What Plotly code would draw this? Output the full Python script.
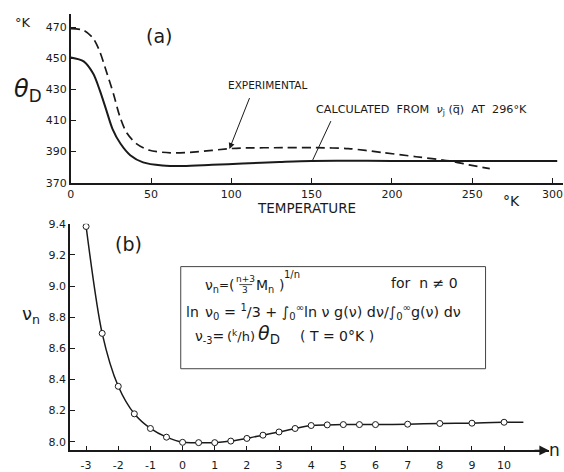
import plotly.graph_objects as go

W, H = 564, 472

# ---------------- data: panel (a) ----------------
calc_T = [0, 8, 14, 18, 22, 26, 31, 37, 45, 57, 70, 88, 107, 130, 150, 200, 250, 303]
calc_theta = [450.5, 448, 440, 429.5, 417, 404.5, 395, 387.7, 383.1, 381.1, 380.7, 381.5, 382.3, 383.3, 384.0, 384.0, 384.0, 384.0]

exp_T = [0, 8, 14, 18, 22, 26.5, 30.5, 34.7, 41, 49, 62, 78, 99, 107, 132, 153, 173, 194, 215, 236, 248, 261]
exp_theta = [469, 468, 462.7, 454.4, 442, 427.3, 412.7, 402.3, 395, 390.9, 389.2, 389.8, 391.9, 392.3, 392.5, 392.5, 391.9, 389.4, 386.7, 384.0, 381.5, 379.0]

a_xticks = [0, 50, 100, 150, 200, 250, 300]
a_yticks = [370, 390, 410, 430, 450, 470]

# ---------------- data: panel (b) ----------------
n_vals = [-3, -2.5, -2, -1.5, -1, -0.5, 0, 0.5, 1, 1.5, 2, 2.5, 3, 3.5, 4, 4.5, 5, 5.5, 6, 7, 8, 9, 10]
nu_vals = [9.383, 8.696, 8.356, 8.179, 8.085, 8.029, 7.996, 7.994, 7.994, 8.004, 8.021, 8.042,
           8.0625, 8.085, 8.104, 8.108, 8.110, 8.110, 8.110, 8.1125, 8.117, 8.119, 8.125]
tail_n = [10, 10.6]
tail_nu = [8.125, 8.125]

b_xticks = [-3, -2, -1, 0, 1, 2, 3, 4, 5, 6, 7, 8, 9, 10]
b_xticktext = ["-3", "-2", "-1", "0", "1", "2", "3", "4", "5", "6", "7", "8", "9", "10"]
b_yticks = [8.0, 8.2, 8.4, 8.6, 8.8, 9.0, 9.2, 9.4]
b_yticktext = ["8.0", "8.2", "8.4", "8.6", "8.8", "9.0", "9.2", "9.4"]

INK = "#1a1a1a"
FONT = "DejaVu Sans"


def px(x, y):
    return x / W, 1 - y / H


fig = go.Figure()

fig.add_trace(go.Scatter(x=calc_T, y=calc_theta, mode="lines", line=dict(color=INK, width=2, shape="spline", smoothing=0.8),
                         xaxis="x", yaxis="y", showlegend=False, hoverinfo="skip"))
fig.add_trace(go.Scatter(x=exp_T, y=exp_theta, mode="lines", line=dict(color=INK, width=1.7, dash="9px,5px", shape="spline", smoothing=0.8),
                         xaxis="x", yaxis="y", showlegend=False, hoverinfo="skip"))

fig.add_trace(go.Scatter(x=tail_n, y=tail_nu, mode="lines", line=dict(color=INK, width=1.5),
                         xaxis="x2", yaxis="y2", showlegend=False, hoverinfo="skip"))
fig.add_trace(go.Scatter(x=n_vals, y=nu_vals, mode="lines+markers",
                         line=dict(color=INK, width=1.5, shape="spline", smoothing=0.8),
                         marker=dict(symbol="circle", size=6, color="white", line=dict(color=INK, width=1)),
                         xaxis="x2", yaxis="y2", showlegend=False, hoverinfo="skip"))

axis_common = dict(showgrid=False, zeroline=False, showline=True, linecolor=INK, linewidth=1.5,
                   ticks="inside", ticklen=5, tickwidth=1, tickcolor=INK,
                   tickfont=dict(family=FONT, size=11, color=INK))

fig.update_layout(
    width=W, height=H, autosize=False,
    margin=dict(l=0, r=0, t=0, b=0),
    paper_bgcolor="white", plot_bgcolor="white",
    font=dict(family=FONT, size=11, color=INK),
    xaxis=dict(domain=[67.3 / W, 563 / W], range=[0, 306.6], tickvals=a_xticks, anchor="y", **axis_common),
    yaxis=dict(domain=[1 - 181.7 / H, 1 - 8 / H], range=[370, 478.6], tickvals=a_yticks, anchor="x", **axis_common),
    xaxis2=dict(domain=[66.5 / W, 549 / W], range=[-3.5, 11.4], tickvals=b_xticks, ticktext=b_xticktext,
                anchor="y2", ticklabelstandoff=4, **axis_common),
    yaxis2=dict(domain=[1 - 457 / H, 1 - 224 / H], range=[7.944, 9.4], tickvals=b_yticks, ticktext=b_yticktext, anchor="x2", **axis_common),
)

ann = []


def text(x, y, s, size=11, xanchor="center", **kw):
    xp, yp = px(x, y)
    ann.append(dict(x=xp, y=yp, xref="paper", yref="paper", text=s, showarrow=False,
                    xanchor=xanchor, yanchor="middle", font=dict(family=FONT, size=size, color=INK), **kw))


# panel (a) texts
text(19, 17, "°K", 13)
text(24, 87, "<i>θ</i><sub>D</sub>", 24)
text(156, 31, "(a)", 19)
text(224, 81, "EXPERIMENTAL", 10.5, xanchor="left")
text(312, 107, "CALCULATED  FROM  <i>ν</i><sub>j</sub> (q\u0305)  AT  296°K", 11.2, xanchor="left")
text(305, 208, "TEMPERATURE", 13.5)
text(511, 201, "°K", 14)

# panel (b) texts
text(125, 245, "(b)", 19)
text(27, 318, "ν<sub>n</sub>", 18)
text(554, 457, "n", 17)

# box text, line 1
text(209, 288, "ν<sub>n</sub>", 14)
text(222, 287, "=", 12)
text(229, 287, "(", 14)
text(243, 281, "n+3", 9)
text(243, 292, "3", 9)
text(263, 288, "M<sub>n</sub>", 14)
text(279, 287, ")", 14)
text(290, 276, "1/n", 10)
text(423, 285, "for  n ≠ 0", 14)
# line 2
text(181, 315, "ln", 14, xanchor="left")
text(200, 315, "ν<sub>0</sub> = <sup>1</sup>/3 + ∫<sub>0</sub><sup>∞</sup>ln ν g(ν) dν/∫<sub>0</sub><sup>∞</sup>g(ν) dν", 14.3, xanchor="left")
# line 3
text(207, 340, "ν<sub>-3</sub>=", 14)
text(239, 339, "(<sup>k</sup>/h)", 13)
text(267, 338, "<i>θ</i><sub>D</sub>", 19)
text(335, 339, "( T = 0°K )", 14)

# experimental arrow
ann.append(dict(x=98.8, y=391.7, ax=111.7, ay=425.4, xref="x", yref="y", axref="x", ayref="y",
                text="", showarrow=True, arrowhead=2, arrowsize=1.2, arrowwidth=1, arrowcolor=INK))
# x-axis arrow in panel (b)
ann.append(dict(x=11.4, y=7.944, ax=10.9, ay=7.944, xref="x2", yref="y2", axref="x2", ayref="y2",
                text="", showarrow=True, arrowhead=2, arrowsize=1.3, arrowwidth=1.5, arrowcolor=INK))

fig.update_layout(annotations=ann)

shapes = []
# calculated pointer line
shapes.append(dict(type="line", xref="x", yref="y", x0=150.5, y0=384.2, x1=162, y1=409.6, line=dict(color=INK, width=1)))
# formula box
x0, y0 = px(178, 268)
x1, y1 = px(485, 373)
shapes.append(dict(type="rect", xref="paper", yref="paper", x0=x0, y0=y1, x1=x1, y1=y0, line=dict(color="#444", width=1)))
# fraction bar
fx0, fy = px(237, 286.5)
fx1, _ = px(250, 286.5)
shapes.append(dict(type="line", xref="paper", yref="paper", x0=fx0, y0=fy, x1=fx1, y1=fy, line=dict(color=INK, width=0.8)))
fig.update_layout(shapes=shapes)

fig.write_html("out.html")
